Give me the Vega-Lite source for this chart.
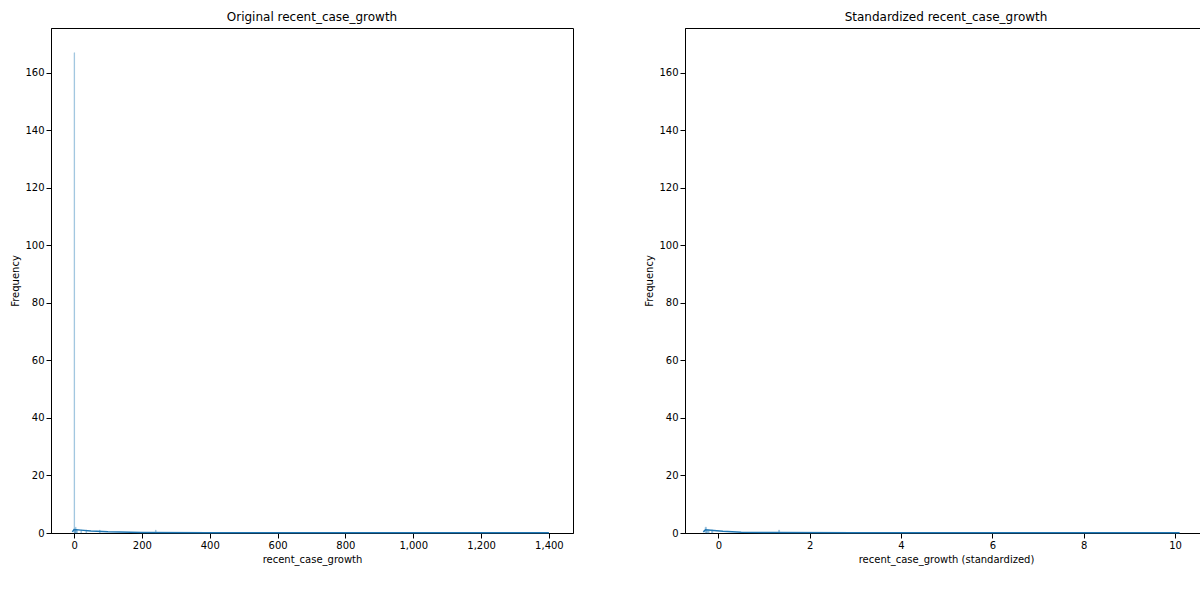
{
  "$schema": "https://vega.github.io/schema/vega-lite/v6.json",
  "config": {"font": "DejaVu Sans", "view": {"stroke": "#000"}, "axis": {"grid": false, "labelFontSize": 10, "titleFontSize": 10, "titleFontWeight": "normal", "domainColor": "#000", "tickColor": "#000", "labelColor": "#000", "titleColor": "#000"}, "title": {"fontSize": 12, "fontWeight": "normal"}},
  "padding": {"left": 10, "top": 10, "right": 10, "bottom": 5},
  "spacing": 70,
  "datasets": {
    "orig": [
      {"x0": 0, "x1": 1.5, "n": 167},
      {"x0": 1.5, "x1": 4, "n": 1},
      {"x0": 4, "x1": 6, "n": 2},
      {"x0": 6, "x1": 10, "n": 1},
      {"x0": 20, "x1": 22, "n": 1},
      {"x0": 35, "x1": 37, "n": 1},
      {"x0": 75, "x1": 77, "n": 1},
      {"x0": 240, "x1": 242, "n": 1}
    ],
    "std": [
      {"x0": -0.29, "x1": -0.26, "n": 2},
      {"x0": -0.26, "x1": -0.2, "n": 1},
      {"x0": -0.15, "x1": -0.12, "n": 1},
      {"x0": 1.32, "x1": 1.34, "n": 1}
    ],
    "kdeo": [
      {"x": -5, "y": 0.4}, {"x": 0, "y": 1.2}, {"x": 20, "y": 1.0}, {"x": 50, "y": 0.7}, {"x": 100, "y": 0.4}, {"x": 200, "y": 0.2}, {"x": 400, "y": 0.1}, {"x": 800, "y": 0.05}, {"x": 1400, "y": 0.05}
    ],
    "kdes": [
      {"x": -0.33, "y": 0.4}, {"x": -0.28, "y": 1.1}, {"x": -0.1, "y": 0.9}, {"x": 0.1, "y": 0.6}, {"x": 0.5, "y": 0.3}, {"x": 1.2, "y": 0.15}, {"x": 3, "y": 0.08}, {"x": 6, "y": 0.05}, {"x": 10.1, "y": 0.05}
    ]
  },
  "hconcat": [
    {
      "width": 522, "height": 505,
      "title": "Original recent_case_growth",
      "layer": [
        {"data": {"name": "orig"}, "mark": {"type": "rect", "color": "#1f77b4", "opacity": 0.5, "stroke": "#1f77b4", "strokeWidth": 0.5},
         "encoding": {
           "x": {"field": "x0", "type": "quantitative", "scale": {"domain": [-68, 1471], "nice": false, "zero": false}, "title": "recent_case_growth", "axis": {"values": [0,200,400,600,800,1000,1200,1400]}},
           "x2": {"field": "x1"},
           "y": {"field": "n", "type": "quantitative", "scale": {"domain": [0, 175.6], "nice": false}, "title": "Frequency", "axis": {"values": [0,20,40,60,80,100,120,140,160]}},
           "y2": {"datum": 0}}},
        {"data": {"name": "kdeo"}, "mark": {"type": "line", "color": "#1f77b4", "strokeWidth": 1.5},
         "encoding": {"x": {"field": "x", "type": "quantitative"}, "y": {"field": "y", "type": "quantitative"}}}
      ]
    },
    {
      "width": 522, "height": 505,
      "title": "Standardized recent_case_growth",
      "layer": [
        {"data": {"name": "std"}, "mark": {"type": "rect", "color": "#1f77b4", "opacity": 0.5, "stroke": "#1f77b4", "strokeWidth": 0.5},
         "encoding": {
           "x": {"field": "x0", "type": "quantitative", "scale": {"domain": [-0.73, 10.7], "nice": false, "zero": false}, "title": "recent_case_growth (standardized)", "axis": {"values": [0,2,4,6,8,10]}},
           "x2": {"field": "x1"},
           "y": {"field": "n", "type": "quantitative", "scale": {"domain": [0, 175.6], "nice": false}, "title": "Frequency", "axis": {"values": [0,20,40,60,80,100,120,140,160]}},
           "y2": {"datum": 0}}},
        {"data": {"name": "kdes"}, "mark": {"type": "line", "color": "#1f77b4", "strokeWidth": 1.5},
         "encoding": {"x": {"field": "x", "type": "quantitative"}, "y": {"field": "y", "type": "quantitative"}}}
      ]
    }
  ]
}
